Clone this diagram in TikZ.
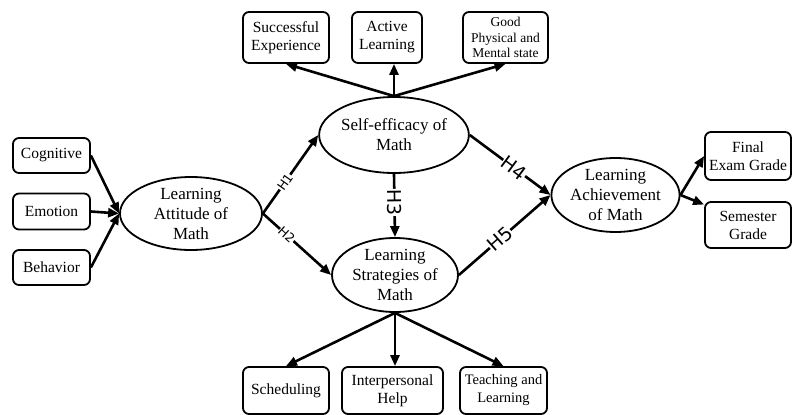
\documentclass[tikz,border=0pt]{standalone}
\usepackage{fontspec}
\setmainfont{Liberation Serif}
\newfontfamily\hfont{DejaVu Sans}
\usetikzlibrary{shapes.geometric,arrows.meta}
\begin{document}
\begin{tikzpicture}[x=1pt,y=-1pt,
  box/.style={draw,line width=1.8pt,rounded corners=6pt,align=center,inner sep=0pt,font=\fontsize{15.5}{18}\selectfont},
  ell/.style={draw,ellipse,line width=1.8pt,align=center,inner sep=0pt,font=\fontsize{17}{20}\selectfont},
  arr/.style={line width=2.6pt,-{Triangle[length=11pt,width=9pt]}},
  hsmall/.style={font=\hfont\fontsize{12.5}{12.5}\selectfont,fill=white,inner sep=0.3pt,sloped},
  hbig/.style={font=\hfont\fontsize{19}{19}\selectfont,fill=white,inner sep=0.3pt,sloped}]
\useasboundingbox (0,0) rectangle (793,415);
% left boxes
\node[box,minimum width=77pt,minimum height=35pt] (cog) at (51.5,155.5) {Cognitive};
\node[box,minimum width=77pt,minimum height=36pt] (emo) at (51.5,211.5) {Emotion};
\node[box,minimum width=77pt,minimum height=35pt] (beh) at (51.5,267.5) {Behavior};
% ellipses
\node[ell,minimum width=142pt,minimum height=73pt] (att) at (191,213.5) {Learning\\Attitude of\\Math};
\node[ell,minimum width=138pt,minimum height=76pt] (se) at (394,135) {Self-efficacy of\\Math};
\node[ell,minimum width=126pt,minimum height=74pt] (ls) at (395,275) {Learning\\Strategies of\\Math};
\node[ell,minimum width=125pt,minimum height=74pt] (ach) at (615.5,195) {Learning\\Achievement\\of Math};
% top boxes
\node[box,minimum width=86pt,minimum height=51pt] (succ) at (286,37.5) {Successful\\Experience};
\node[box,minimum width=70pt,minimum height=51pt] (act) at (387,37.5) {Active\\Learning};
\node[box,minimum width=85pt,minimum height=51pt,font=\fontsize{13.5}{15.5}\selectfont] (good) at (505.5,37.5) {Good\\Physical and\\Mental state};
% right boxes
\node[box,minimum width=86pt,minimum height=48pt] (fin) at (748,156) {Final\\Exam Grade};
\node[box,minimum width=86pt,minimum height=46pt] (sem) at (748,225) {Semester\\Grade};
% bottom boxes
\node[box,minimum width=86pt,minimum height=47pt] (sch) at (286,390.5) {Scheduling};
\node[box,minimum width=101pt,minimum height=47pt] (inter) at (392.5,390.5) {Interpersonal\\Help};
\node[box,minimum width=87pt,minimum height=47pt,font=\fontsize{14.5}{18}\selectfont] (teach) at (503.5,390.5) {Teaching and\\Learning};
% arrows
\draw[arr] (cog.east) -- (att.west);
\draw[arr] (emo.east) -- (att.west);
\draw[arr] (beh.east) -- (att.west);
\draw[arr] (se.north) -- (succ.south);
\draw[arr] (se.north) -- (act.south-|se.north);
\draw[arr] (se.north) -- (good.south);
\draw[arr] (ls.south) -- (sch.north);
\draw[arr] (ls.south) -- (inter.north-|ls.south);
\draw[arr] (ls.south) -- (teach.north);
\draw[arr] (ach.east) -- (fin.west);
\draw[arr] (ach.east) -- (sem.155);
\draw[arr] (att.east) -- node[hsmall,pos=0.4]{H1} (se.west);
\draw[arr] (att.east) -- node[hsmall,pos=0.35]{H2} (ls.west);
\draw[arr] (se.south) -- node[hbig,pos=0.45]{H3} (ls.north);
\draw[arr] (se.east) -- node[hbig,pos=0.55]{H4} (ach.west);
\draw[arr] (ls.east) -- node[hbig,pos=0.45]{H5} (ach.west);
\end{tikzpicture}
\end{document}
